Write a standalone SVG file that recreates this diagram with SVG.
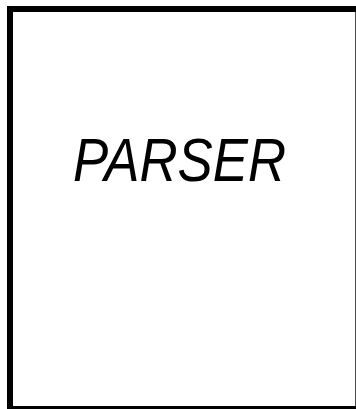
<svg xmlns="http://www.w3.org/2000/svg" width="356" height="409" viewBox="0 0 356 409">
<style>
.box{fill:#fff;stroke:#000;stroke-width:6}
.lbl{font-family:"Liberation Sans",Arial,sans-serif;font-style:italic;font-size:61px;fill:#000}
</style>
<rect width="356" height="409" fill="#fff"/>
<g id="parser">
<rect class="box" x="10" y="9" width="348.3" height="400"/>
<text class="lbl" x="73" y="181" textLength="213" lengthAdjust="spacingAndGlyphs">PARSER</text>
</g>
<g id="connectors"/>
</svg>
